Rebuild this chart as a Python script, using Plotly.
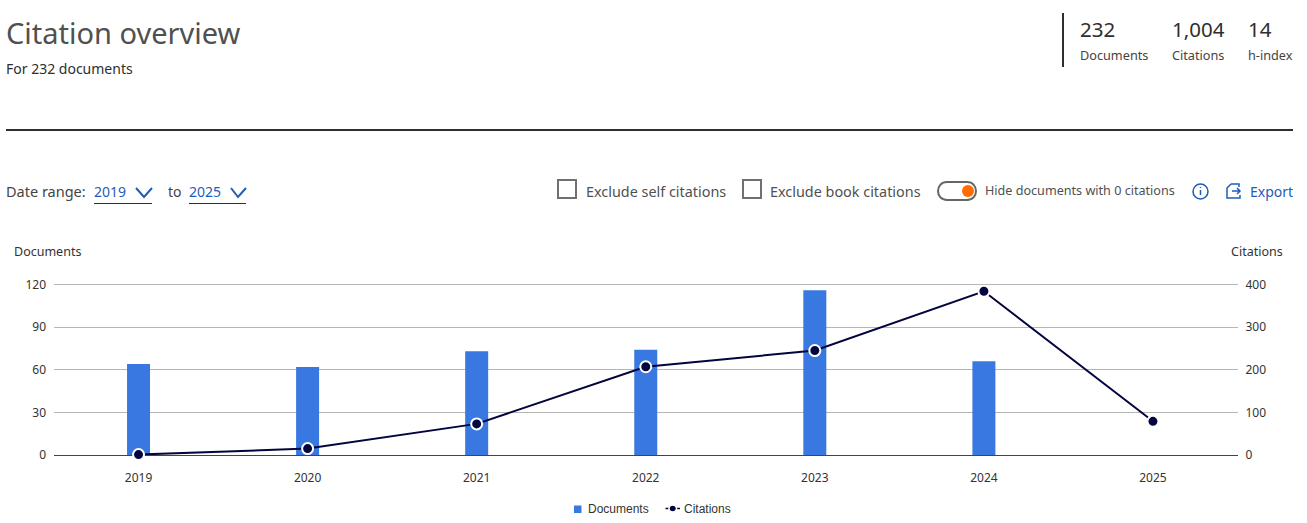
import plotly.graph_objects as go

W, H = 1307, 523

# chart data
years = ["2019", "2020", "2021", "2022", "2023", "2024", "2025"]
documents = [64, 62, 73, 74, 116, 66, None]
citations = [1, 15, 73, 207, 245, 384, 79]
doc_ticks = [0, 30, 60, 90, 120]
cit_ticks = [0, 100, 200, 300, 400]

# summary block at the top right
summary_values = ["232", "1,004", "14"]
summary_labels = ["Documents", "Citations", "h-index"]

UI_FONT = "Noto Sans"
TICK_FONT = "Noto Sans"
DARK = "#2e2e2e"
GREY = "#505050"
BLUE = "#1f5cb8"


def px(x):
    return x / W


def py(y):
    return 1 - y / H


def text(s, x, y, size, color=DARK, anchor="left", family=UI_FONT):
    fig.add_annotation(
        text=s, xref="paper", yref="paper", x=px(x), y=py(y),
        xanchor=anchor, yanchor="middle", showarrow=False,
        font=dict(family=family, size=size, color=color),
        borderpad=0, borderwidth=0,
    )


def path(d, color, width=1.5, fill=None):
    # d is written in page pixels and converted to paper fractions
    out = []
    for part in d.split():
        if part[0].isalpha():
            out.append(part)
        else:
            a, b = part.split(",")
            out.append(f"{px(float(a))},{py(float(b))}")
    fig.add_shape(
        type="path", path=" ".join(out), xref="paper", yref="paper",
        line=dict(color=color, width=width), fillcolor=fill,
    )


def box(kind, x0, y0, x1, y1, color, width=1.5, fill=None):
    fig.add_shape(
        type=kind, xref="paper", yref="paper",
        x0=px(x0), x1=px(x1), y0=py(y0), y1=py(y1),
        line=dict(color=color, width=width), fillcolor=fill,
    )


fig = go.Figure()

fig.add_bar(
    name="Documents", x=years, y=documents, yaxis="y",
    marker=dict(color="#3878e0", line=dict(width=0)),
)
fig.add_scatter(
    name="Citations", x=years, y=citations, yaxis="y2", mode="lines+markers",
    line=dict(color="#03053f", width=2),
    marker=dict(color="#03053f", size=11, line=dict(color="white", width=2)),
    cliponaxis=False,
)

fig.update_layout(
    width=W, height=H,
    margin=dict(l=0, r=0, t=0, b=0, autoexpand=False),
    paper_bgcolor="white", plot_bgcolor="white",
    bargap=0.864,
    showlegend=False,
    font=dict(family=TICK_FONT, size=12, color=DARK),
    xaxis=dict(
        domain=[px(54), px(1237.5)], type="category", automargin=False,
        showgrid=False, showline=False, ticks="", ticklabelstandoff=14,
        tickfont=dict(family=TICK_FONT, size=12, color="#333333"),
    ),
    # ranges run 2px past the top tick, plotly drops gridlines within 1px of the edge
    yaxis=dict(
        domain=[py(455), py(282.2)], range=[0, 121.6], tickvals=doc_ticks,
        automargin=False,
        gridcolor="#b5b5b5", gridwidth=1, zeroline=True,
        zerolinecolor="#444444", zerolinewidth=1, showline=False,
        ticks="", ticklabelstandoff=7,
        tickfont=dict(family=TICK_FONT, size=12, color="#333333"),
    ),
    yaxis2=dict(
        overlaying="y", side="right", range=[0, 405.33], tickvals=cit_ticks,
        automargin=False,
        showgrid=False, zeroline=False, showline=False,
        ticks="", ticklabelstandoff=7,
        tickfont=dict(family=TICK_FONT, size=12, color="#333333"),
    ),
)

# header
text("Citation overview", 6, 32.5, 29, "#505050")
text("For 232 documents", 6, 69, 14)
box("line", 6, 130, 1293, 130, DARK, 2)
box("line", 1063, 13, 1063, 67, DARK, 2)

summary_x = [1080, 1171.5, 1248]
for sx, val, lab in zip(summary_x, summary_values, summary_labels):
    text(val, sx, 29.5, 20.5)
    text(lab, sx, 55.5, 12.7, "#444444")

# date range controls
text("Date range:", 6, 191, 14.5, "#444444")
text("2019", 94, 191, 14, BLUE)
path("M 136,188 L 144,197 L 152,188", BLUE, 2)
box("line", 94, 203.5, 152, 203.5, DARK, 1)
text("to", 168, 191, 14, "#444444")
text("2025", 189, 191, 14, BLUE)
path("M 231,188 L 238,197 L 246,188", BLUE, 2)
box("line", 189, 203.5, 246, 203.5, DARK, 1)

# checkboxes
box("rect", 558, 180, 576, 198, "#707070", 2)
text("Exclude self citations", 586, 191, 14.4, "#505050")
box("rect", 743, 180, 761, 198, "#707070", 2)
text("Exclude book citations", 770, 191, 14.4, "#505050")

# toggle
path(
    "M 947,182 L 967,182 C 979,182 979,200 967,200 L 947,200 C 935,200 935,182 947,182 Z",
    "#666666", 2,
)
box("circle", 962, 185, 974, 197, "#ff6c00", 0, "#ff6c00")
text("Hide documents with 0 citations", 985, 190, 12.6, "#505050")

# info and export
box("circle", 1193, 184, 1208, 199, BLUE, 1.5)
box("line", 1200.5, 190, 1200.5, 195, BLUE, 1.5)
box("line", 1200.5, 187, 1200.5, 188, BLUE, 1.5)
path("M 1231,184 L 1239,184 L 1239,187 M 1231,184 L 1227,188 L 1227,198 L 1240,198 L 1240,195", BLUE, 1.5)
path("M 1232,191 L 1240,191 M 1237,188 L 1240,191 L 1237,194", BLUE, 1.5)
text("Export", 1250, 191, 14, BLUE)

# axis titles
text("Documents", 14, 252, 12.5, "#333333", family=TICK_FONT)
text("Citations", 1283, 252, 12.5, "#333333", anchor="right", family=TICK_FONT)

# legend, drawn by hand to sit where the original has it
box("rect", 574, 505.5, 581.5, 513, "#3878e0", 0, "#3878e0")
text("Documents", 588, 509, 12, "#333333", family="Liberation Sans")
box("line", 665.5, 508.5, 680, 508.5, "#03053f", 1.5)
box("circle", 669, 505, 676.5, 512, "white", 1.5, "#03053f")
text("Citations", 683.5, 509, 12, "#333333", family="Liberation Sans")

fig.write_html(
    "out.html",
    config=dict(displayModeBar=False),
    post_script="document.body.style.margin='0';",
)
